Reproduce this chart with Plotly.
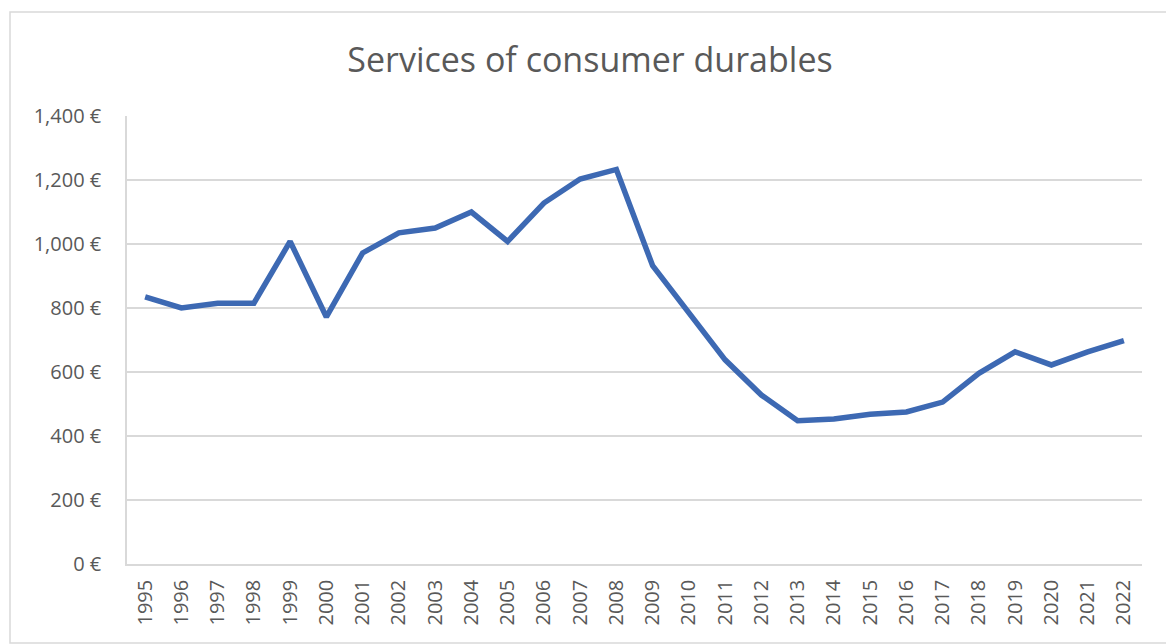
import plotly.graph_objects as go

years = [str(y) for y in range(1995, 2023)]
values = [835, 800, 815, 815, 1008, 772, 972, 1035, 1050, 1100, 1008, 1128,
          1203, 1233, 932, 786, 638, 528, 448, 453, 468, 475, 506, 596,
          663, 622, 663, 698]
y_ticks = [0, 200, 400, 600, 800, 1000, 1200, 1400]
y_tick_text = ["0 €", "200 €", "400 €", "600 €", "800 €", "1,000 €", "1,200 €", "1,400 €"]

W, H = 1166, 644
L, R, T, B = 127, 24, 116, 80
pw, ph = W - L - R, H - T - B

def px_x(px):
    return (px - L) / pw

def px_y(py):
    return (H - B - py) / ph

font = "Open Sans"
grey = "#595959"

fig = go.Figure()
fig.add_trace(go.Scatter(
    x=years, y=values, mode="lines",
    line=dict(color="#3d69b3", width=5.5),
    hoverinfo="x+y",
))

fig.update_layout(
    width=W, height=H,
    margin=dict(l=L, r=R, t=T, b=B),
    paper_bgcolor="white", plot_bgcolor="white",
    showlegend=False,
    title=dict(
        text="Services of consumer durables",
        x=590 / W, xanchor="center", xref="container",
        y=1 - 60 / H, yanchor="middle", yref="container",
        font=dict(family=font, size=34, color=grey),
    ),
    xaxis=dict(
        type="category",
        range=[-0.5, len(years) - 0.5],
        tickangle=-90,
        tickfont=dict(family=font, size=20, color=grey),
        showgrid=False,
        showline=True, linecolor="#d9d9d9", linewidth=1.5,
        ticks="", ticklabelstandoff=6,
    ),
    yaxis=dict(
        range=[0, 1400],
        tickvals=y_ticks, ticktext=y_tick_text,
        tickfont=dict(family=font, size=20, color=grey),
        showgrid=True, gridcolor="#d9d9d9", gridwidth=1.5,
        zeroline=False,
        showline=True, linecolor="#d9d9d9", linewidth=1.5,
        ticks="", ticklabelstandoff=20,
    ),
    shapes=[dict(
        type="rect", xref="paper", yref="paper",
        x0=px_x(10), x1=px_x(1190), y0=px_y(643), y1=px_y(12),
        line=dict(color="#d9d9d9", width=1.5), fillcolor="rgba(0,0,0,0)",
        layer="below",
    )],
)

fig.write_html("out.html")
